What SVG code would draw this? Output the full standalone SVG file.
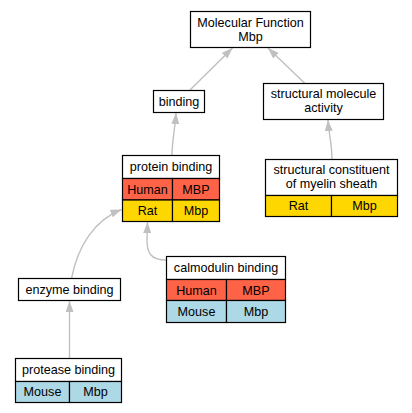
<svg xmlns="http://www.w3.org/2000/svg" width="412" height="413" viewBox="0 0 412 413">
<style>
text{font-family:"Liberation Sans",Arial,sans-serif;font-size:12.6px;fill:#000;text-anchor:middle}
.b{fill:#fff;stroke:#000;stroke-width:1.2}
.c{stroke:#000;stroke-width:1.2}
.h{fill:#ff6347}
.y{fill:#ffd700}
.m{fill:#add8e6}
.e{fill:none;stroke:#c0c0c0;stroke-width:1.4}
</style>
<defs>
<marker id="ah" markerWidth="11" markerHeight="8" refX="11" refY="4" orient="auto" markerUnits="userSpaceOnUse">
<path d="M0,0 L11,4 L0,8 z" fill="#c0c0c0"/>
</marker>
</defs>
<rect width="412" height="413" fill="#fff"/>
<g id="edges">
<path class="e" d="M190,90 L232.5,48" marker-end="url(#ah)"/>
<path class="e" d="M305,83.5 L268,48" marker-end="url(#ah)"/>
<path class="e" d="M172,155 C172,140 175,130 176,113" marker-end="url(#ah)"/>
<path class="e" d="M332,159 C332,145 329,135 328,120" marker-end="url(#ah)"/>
<path class="e" d="M71.5,278.5 C78,245 95,220 121.5,209.5" marker-end="url(#ah)"/>
<path class="e" d="M166,260 C150,260 147,252 147,240 L147.5,222" marker-end="url(#ah)"/>
<path class="e" d="M69.5,358 L69.5,301" marker-end="url(#ah)"/>
</g>
<g id="mf">
<rect class="b" x="190.5" y="11.5" width="120" height="36"/>
<text x="250.5" y="26.5">Molecular Function</text>
<text x="250.5" y="40.5">Mbp</text>
</g>
<g id="binding">
<rect class="b" x="153.5" y="90.5" width="51" height="22"/>
<text x="179" y="105.5">binding</text>
</g>
<g id="sma">
<rect class="b" x="263.5" y="83.5" width="120" height="36"/>
<text x="323.5" y="98">structural molecule</text>
<text x="323.5" y="112">activity</text>
</g>
<g id="protein">
<rect class="b" x="122.5" y="155.5" width="97" height="23"/>
<rect class="c h" x="122.5" y="178.5" width="50" height="21.5"/>
<rect class="c h" x="172.5" y="178.5" width="47" height="21.5"/>
<rect class="c y" x="122.5" y="200" width="50" height="21.5"/>
<rect class="c y" x="172.5" y="200" width="47" height="21.5"/>
<text x="171" y="171">protein binding</text>
<text x="147.5" y="193.5">Human</text>
<text x="196" y="193.5">MBP</text>
<text x="147.5" y="214.5">Rat</text>
<text x="196" y="214.5">Mbp</text>
</g>
<g id="scms">
<rect class="b" x="265.5" y="159.5" width="132" height="36"/>
<rect class="c y" x="265.5" y="195.5" width="66" height="21"/>
<rect class="c y" x="331.5" y="195.5" width="66" height="21"/>
<text x="331.5" y="173.5">structural constituent</text>
<text x="331.5" y="187.5">of myelin sheath</text>
<text x="298.5" y="209.5">Rat</text>
<text x="364.5" y="209.5">Mbp</text>
</g>
<g id="enzyme">
<rect class="b" x="18.5" y="278.5" width="102" height="22"/>
<text x="69.5" y="294">enzyme binding</text>
</g>
<g id="calmodulin">
<rect class="b" x="166.5" y="256.5" width="119" height="23"/>
<rect class="c h" x="166.5" y="279.5" width="60" height="21"/>
<rect class="c h" x="226.5" y="279.5" width="59" height="21"/>
<rect class="c m" x="166.5" y="300.5" width="60" height="22"/>
<rect class="c m" x="226.5" y="300.5" width="59" height="22"/>
<text x="226" y="272">calmodulin binding</text>
<text x="196.5" y="294.5">Human</text>
<text x="256" y="294.5">MBP</text>
<text x="196.5" y="315.5">Mouse</text>
<text x="256" y="315.5">Mbp</text>
</g>
<g id="protease">
<rect class="b" x="15.5" y="358.5" width="106" height="23"/>
<rect class="c m" x="15.5" y="381.5" width="54" height="21"/>
<rect class="c m" x="69.5" y="381.5" width="52" height="21"/>
<text x="68.5" y="374">protease binding</text>
<text x="42.5" y="396">Mouse</text>
<text x="95.5" y="396">Mbp</text>
</g>
</svg>
